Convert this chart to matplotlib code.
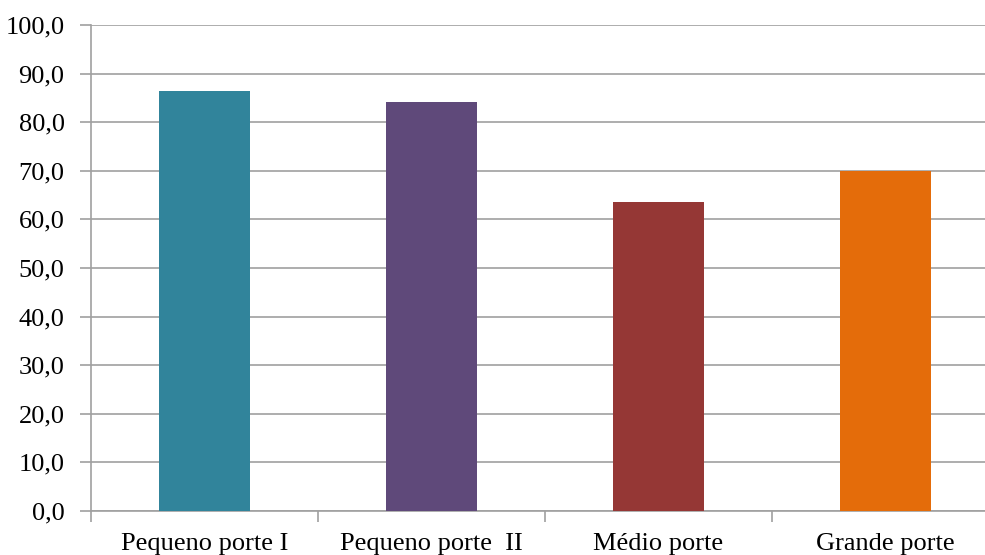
import numpy as np
import matplotlib
matplotlib.use("Agg")
import matplotlib.pyplot as plt

categories = ["Pequeno porte I", "Pequeno porte  II", "Médio porte", "Grande porte"]
values = [86.4, 84.2, 63.6, 69.9]
colors = ["#31849B", "#5F497A", "#953735", "#E46C0A"]
yticks = np.arange(0, 101, 10)

plt.rcParams["font.family"] = ["Liberation Serif", "DejaVu Serif"]

fig = plt.figure(figsize=(9.85, 5.55), dpi=100)
ax = fig.add_axes([91 / 985, 44 / 555, 908 / 985, 486 / 555])

x = np.arange(len(categories))
ax.bar(x, values, width=0.4, color=colors, zorder=3)

ax.set_xlim(-0.5, len(categories) - 0.5)
ax.set_ylim(0, 100)
ax.set_yticks(yticks)
ax.set_yticklabels([f"{v:.1f}".replace(".", ",") for v in yticks])
ax.yaxis.grid(True, color="#A0A0A0", linewidth=1.2, zorder=0)

# category labels centred, tick marks on the boundaries
ax.set_xticks(x)
ax.set_xticklabels(categories)
ax.set_xticks(np.arange(-0.5, len(categories), 1), minor=True)
ax.tick_params(axis="x", which="major", length=0, pad=16, labelsize=19)
ax.tick_params(axis="x", which="minor", length=8, color="#A0A0A0", width=1.2)
ax.tick_params(axis="y", length=8, color="#A0A0A0", width=1.2, pad=11, labelsize=19)

for side in ["top", "right"]:
    ax.spines[side].set_visible(False)
for side in ["left", "bottom"]:
    ax.spines[side].set_color("#A0A0A0")
    ax.spines[side].set_linewidth(1.2)

fig.savefig("out.png", dpi=100)
